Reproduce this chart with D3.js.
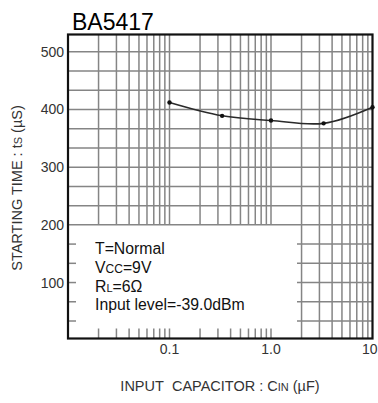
<!DOCTYPE html>
<html><head><meta charset="utf-8">
<script src="https://cdn.jsdelivr.net/npm/d3@7"></script>
<style>body{margin:0;background:#fff}svg{display:block}text{font-family:"Liberation Sans",Arial,sans-serif}</style>
</head><body><svg id="c" width="378" height="403"></svg>
<script>
const title = "BA5417";
const capX = [0.1, 0.33, 1.0, 3.3, 10];
const timeY = [412, 389, 381, 376, 404];
const yTickLabels = [100, 200, 300, 400, 500];
const xTickValues = [0.1, 1.0, 10];
const xTickLabels = ["0.1", "1.0", "10"];

const svg = d3.select("#c");
const L = 68, R = 372.5, T = 34.5, B = 338.5;
const x = d3.scaleLog().domain([0.01, 10]).range([L, R]);
const y = d3.scaleLinear().domain([3, 530]).range([B, T]);
const boxRight = 297, gridCol = "#858585";

const xMinor = [];
[0.01, 0.1, 1].forEach(d => { for (let k = 1; k <= 9; k++) xMinor.push(+(d * k).toFixed(4)); });
const xGrid = xMinor.filter(v => v > 0.01 && v < 10);
const yGrid = d3.range(1, 16).map(i => i * 100 / 3);

const g = svg.append("g");
yGrid.forEach(v => {
  if (v >= 199) {
    g.append("line").attr("x1", L).attr("x2", R).attr("y1", y(v)).attr("y2", y(v));
  } else {
    g.append("line").attr("x1", boxRight).attr("x2", R).attr("y1", y(v)).attr("y2", y(v));
    g.append("line").attr("x1", L).attr("x2", L + 8).attr("y1", y(v)).attr("y2", y(v));
  }
});
xGrid.forEach(v => {
  if (x(v) < boxRight) {
    g.append("line").attr("x1", x(v)).attr("x2", x(v)).attr("y1", T).attr("y2", y(200));
    g.append("line").attr("x1", x(v)).attr("x2", x(v)).attr("y1", B - 10).attr("y2", B);
  } else {
    g.append("line").attr("x1", x(v)).attr("x2", x(v)).attr("y1", T).attr("y2", B);
  }
});
g.selectAll("line").attr("stroke", gridCol).attr("stroke-width", 1.5);

svg.append("rect").attr("x", L).attr("y", T).attr("width", R - L).attr("height", B - T)
  .attr("fill", "none").attr("stroke", "#111").attr("stroke-width", 2.2);

const pts = capX.map((c, i) => [c, timeY[i]]);
svg.append("path").datum(pts)
  .attr("d", d3.line().x(d => x(d[0])).y(d => y(d[1])).curve(d3.curveCatmullRom.alpha(0.5)))
  .attr("fill", "none").attr("stroke", "#2a2a2a").attr("stroke-width", 1.6);
svg.selectAll("circle.p").data(pts).enter().append("circle")
  .attr("cx", d => x(d[0])).attr("cy", d => y(d[1])).attr("r", 2.2).attr("fill", "#111");

svg.selectAll("text.yt").data(yTickLabels).enter().append("text")
  .attr("x", 64).attr("y", d => y(d) + 5).attr("text-anchor", "end")
  .attr("font-size", 14).attr("fill", "#333").text(d => d);
svg.selectAll("text.xt").data(xTickValues).enter().append("text")
  .attr("x", (d, i) => i === 2 ? 377.5 : x(d)).attr("y", 353.5)
  .attr("text-anchor", (d, i) => i === 2 ? "end" : "middle")
  .attr("font-size", 14).attr("fill", "#333").text((d, i) => xTickLabels[i]);

svg.append("text").attr("x", 72).attr("y", 29.5).attr("font-size", 23).attr("fill", "#000").text(title);

const yl = svg.append("text").attr("transform", "translate(22,188) rotate(-90)")
  .attr("text-anchor", "middle").attr("font-size", 14.5).attr("fill", "#333");
yl.append("tspan").text("STARTING TIME : t");
yl.append("tspan").attr("font-size", 11).text("S");
yl.append("tspan").text(" (\u00b5S)");

const xl = svg.append("text").attr("x", 220).attr("y", 391)
  .attr("text-anchor", "middle").attr("font-size", 14.5).attr("fill", "#333");
xl.append("tspan").text("INPUT\u00a0 CAPACITOR : C");
xl.append("tspan").attr("font-size", 11).text("IN");
xl.append("tspan").text(" (\u00b5F)");

const leg = svg.append("g").attr("font-size", 15.8).attr("fill", "#111");
const lx = 95;
leg.append("text").attr("x", lx).attr("y", 254.3).text("T=Normal");
const l2 = leg.append("text").attr("x", lx).attr("y", 273);
l2.append("tspan").text("V"); l2.append("tspan").attr("font-size", 12).text("CC"); l2.append("tspan").text("=9V");
const l3 = leg.append("text").attr("x", lx).attr("y", 291.7);
l3.append("tspan").text("R"); l3.append("tspan").attr("font-size", 11).text("L"); l3.append("tspan").text("=6\u03a9");
leg.append("text").attr("x", lx).attr("y", 310.4).text("Input level=-39.0dBm");
</script></body></html>
